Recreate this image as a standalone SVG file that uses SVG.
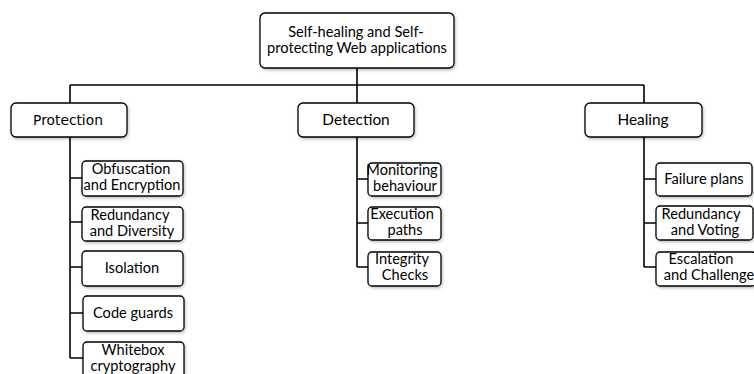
<svg xmlns="http://www.w3.org/2000/svg" width="754" height="374" viewBox="0 0 754 374">
<defs>
<filter id="sh" x="-10%" y="-20%" width="125%" height="150%">
<feDropShadow dx="1" dy="1.5" stdDeviation="1.5" flood-color="#000" flood-opacity="0.25"/>
</filter>
</defs>
<style>
.box{fill:#fff;stroke:#000;stroke-width:1.3;filter:url(#sh)}
.t{font-family:Lato,"Liberation Sans",sans-serif;font-size:14.6px;fill:#000;text-anchor:middle}
.h{font-size:15.4px}
.d{font-family:"DejaVu Sans",sans-serif;font-size:13.8px;fill:#000;text-anchor:middle}
.c{fill:none;stroke:#000;stroke-width:1.6}
</style>
<rect width="754" height="374" fill="#fff"/>
<g id="connectors">
<path class="c" d="M357 68V103M70 85H644M70 85V103M644 85V103"/>
<path class="c" d="M70 137V358M70 178H82M70 222H82M70 267H82M70 313H83M70 358H83"/>
<path class="c" d="M357 137V267M357 179H368M357 223H368M357 267H368"/>
<path class="c" d="M644 137V267M644 179H656M644 223H656M644 267H656"/>
</g>
<g id="root">
<rect class="box" x="260" y="13" width="194" height="55" rx="5"/>
<text class="t" x="356" y="37">Self-healing and Self-</text>
<text class="t" x="357" y="53">protecting Web applications</text>
</g>
<g id="protection">
<rect class="box" x="11" y="103" width="116" height="34" rx="5"/>
<text class="d" x="68" y="125">Protection</text>
</g>
<g id="detection">
<rect class="box" x="298" y="103" width="116" height="34" rx="5"/>
<text class="t h" x="356" y="125">Detection</text>
</g>
<g id="healing">
<rect class="box" x="585" y="103" width="117" height="34" rx="5"/>
<text class="t h" x="643" y="125">Healing</text>
</g>
<g id="obfuscation">
<rect class="box" x="82" y="161" width="101" height="35" rx="4"/>
<text class="t" x="131" y="174">Obfuscation</text>
<text class="t" x="132" y="190">and Encryption</text>
</g>
<g id="redundancy-diversity">
<rect class="box" x="82" y="207" width="101" height="34" rx="4"/>
<text class="t" x="130" y="220">Redundancy</text>
<text class="t" x="132" y="236">and Diversity</text>
</g>
<g id="isolation">
<rect class="box" x="82" y="251" width="101" height="35" rx="4"/>
<text class="t" x="132" y="273">Isolation</text>
</g>
<g id="codeguards">
<rect class="box" x="83" y="296" width="101" height="35" rx="4"/>
<text class="t" x="133" y="318">Code guards</text>
</g>
<g id="whitebox">
<rect class="box" x="83" y="342" width="101" height="36" rx="4"/>
<text class="t" x="133" y="355">Whitebox</text>
<text class="t" x="133" y="371">cryptography</text>
</g>
<g id="monitoring">
<rect class="box" x="368" y="163" width="73" height="33" rx="4"/>
<text class="t" x="402" y="175">Monitoring</text>
<text class="t" x="405" y="191">behaviour</text>
</g>
<g id="execution">
<rect class="box" x="368" y="207" width="73" height="33" rx="4"/>
<text class="t" x="402" y="219">Execution</text>
<text class="t" x="405" y="235">paths</text>
</g>
<g id="integrity">
<rect class="box" x="368" y="252" width="73" height="34" rx="4"/>
<text class="t" x="402" y="264">Integrity</text>
<text class="t" x="405" y="280">Checks</text>
</g>
<g id="failure">
<rect class="box" x="656" y="163" width="96" height="33" rx="4"/>
<text class="t" x="704" y="184">Failure plans</text>
</g>
<g id="redundancy-voting">
<rect class="box" x="656" y="206" width="97" height="34" rx="4"/>
<text class="t" x="701" y="219">Redundancy</text>
<text class="t" x="705" y="235">and Voting</text>
</g>
<g id="escalation">
<rect class="box" x="656" y="252" width="100" height="34" rx="4"/>
<text class="t" x="701" y="264">Escalation</text>
<text class="t" x="709" y="280">and Challenge</text>
</g>
</svg>
